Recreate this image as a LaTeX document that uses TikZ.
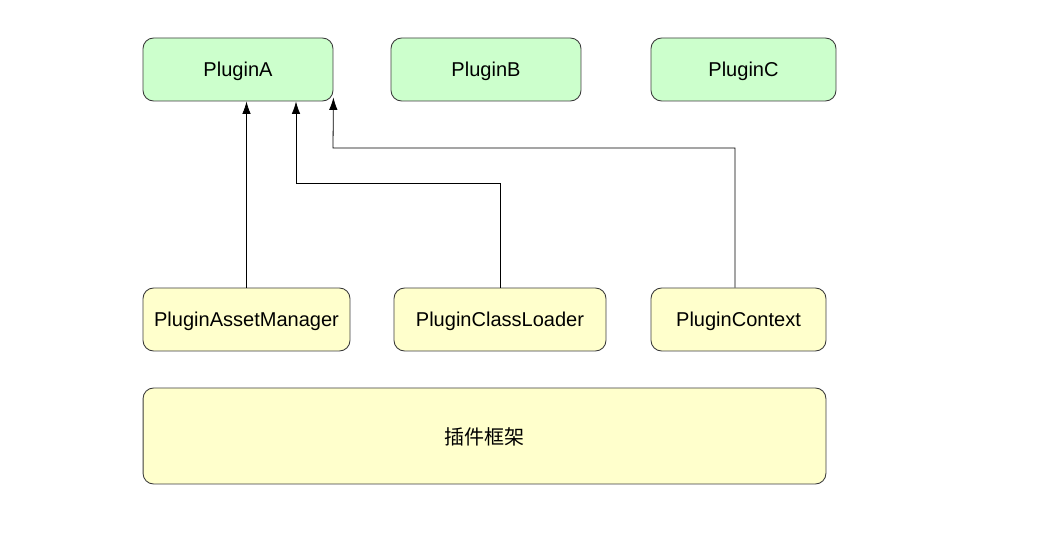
\documentclass[tikz,border=0pt]{standalone}
\usepackage{fontspec}
\setmainfont{Liberation Sans}
\newfontfamily\cjk{Noto Sans CJK SC}
\usepackage{xcolor}
\definecolor{plgreen}{RGB}{204,255,204}
\definecolor{plyellow}{RGB}{255,255,204}
\definecolor{pledge}{RGB}{60,60,60}
\usetikzlibrary{arrows.meta,positioning,calc}
\tikzset{
  plugin/.style={draw=pledge, rounded corners=6pt, fill=#1, font=\fontsize{11.4}{13}\selectfont,
                 minimum width=3.8cm, minimum height=1.26cm, text depth=0pt, line width=0.5pt},
  link/.style={draw=black, line width=0.45pt, -{Latex[length=2.5mm,width=1.7mm]}},
}

\begin{document}
\begin{tikzpicture}[x=0.02cm, y=-0.02cm]
\useasboundingbox (0,0) rectangle (1038,546);

% Plugins
\node[plugin=plgreen] (pa) at (238,69.5) {PluginA};
\node[plugin=plgreen] (pb) at (486,69.5) {PluginB};
\node[plugin=plgreen, minimum width=3.7cm] (pc) at (743.5,69.5) {PluginC};

% Framework parts
\node[plugin=plyellow, minimum width=4.14cm] (am) at (246.5,319.5) {PluginAssetManager};
\node[plugin=plyellow, minimum width=4.24cm] (cl) at (500,319.5) {PluginClassLoader};
\node[plugin=plyellow, minimum width=3.5cm] (ctx) at (738.5,319.5) {PluginContext};

% Framework
\node[plugin=plyellow, minimum width=13.66cm, minimum height=1.92cm] (fw) at (484.5,436) {\cjk 插件框架};

% Links
\coordinate (clbend) at (296,183);
\coordinate (ctxbend) at (333,148);
\draw[link] (am.north) -- (am.north |- pa.south);
\draw[link] (cl.north) |- (clbend) -- (clbend |- pa.south);
\draw[link] ([xshift=-0.07cm]ctx.north) |- (ctxbend) -- ([yshift=0.08cm]pa.south east);

\end{tikzpicture}
\end{document}
